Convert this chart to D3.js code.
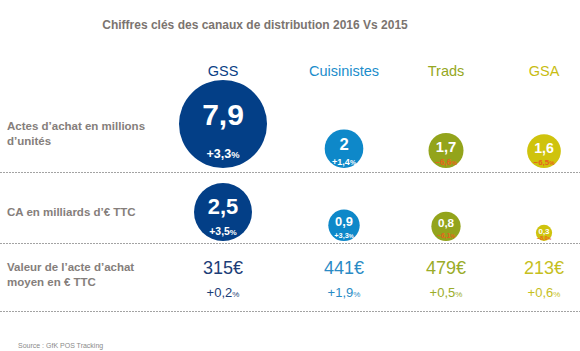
<!DOCTYPE html>
<html>
<head>
<meta charset="utf-8">
<script src="https://cdn.jsdelivr.net/npm/d3@7"></script>
<style>
  body { margin: 0; background: #fff; }
  text { font-family: "Liberation Sans", Arial, sans-serif; }
</style>
</head>
<body>
<div id="chart"></div>
<script>
var width = 580, height = 351;

// data
var channels = ["GSS", "Cuisinistes", "Trads", "GSA"];
var actes = [7.9, 2, 1.7, 1.6];            // millions d'unités
var actesEvol = [3.3, 1.4, -6.6, -6.5];     // %
var ca = [2.5, 0.9, 0.8, 0.3];              // milliards d'€ TTC
var caEvol = [3.5, 3.3, -6.1, -8.0];        // %
var valeur = [315, 441, 479, 213];          // € TTC
var valeurEvol = [0.2, 1.9, 0.5, 0.6];      // %
var rowLabels = [
  ["Actes d\u2019achat en millions", "d\u2019unit\u00e9s"],
  ["CA en milliards d\u2019\u20ac TTC"],
  ["Valeur de l\u2019acte d\u2019achat", "moyen en \u20ac TTC"]
];

var fills = ["#033f87", "#0e88c9", "#93a41b", "#cfc30d"];
var headColors = ["#0b3f86", "#1b8dcb", "#95a722", "#c8bc12"];
var valColors = ["#1c3d77", "#2a8bc5", "#9aac28", "#c6bf1e"];

var svg = d3.select("#chart")
  .append("svg")
    .attr("width", width)
    .attr("height", height);

var x = d3.scaleOrdinal()
    .domain(channels)
    .range([223, 344, 446, 544]);

// text size inside bubbles, by bubble radius
var valSize = d3.scaleLinear().domain([8, 14, 19, 44]).range([8, 11, 16.5, 30]);
var pctSize = d3.scaleLinear().domain([8, 14, 19, 44]).range([5.5, 6.5, 9, 12.5]);

var fmt = function(v, dec) {
  return d3.format("." + dec + "f")(v).replace(".", ",");
};
var fmtPct = function(v) {
  return (v >= 0 ? "+" : "") + fmt(v, 1);
};

// title
svg.append("text")
  .attr("x", 255)
  .attr("y", 29)
  .attr("text-anchor", "middle")
  .attr("font-size", 12)
  .attr("font-weight", "bold")
  .attr("fill", "#7b7470")
  .text("Chiffres cl\u00e9s des canaux de distribution 2016 Vs 2015");

// headers
svg.selectAll(".head")
  .data(channels)
  .enter().append("text")
    .attr("class", "head")
    .attr("x", function(d) { return x(d); })
    .attr("y", 76)
    .attr("text-anchor", "middle")
    .attr("font-size", 14.5)
    .attr("fill", function(d, i) { return headColors[i]; })
    .text(function(d) { return d; });

// row separators
svg.selectAll(".sep")
  .data([172, 243, 311])
  .enter().append("line")
    .attr("class", "sep")
    .attr("x1", 0)
    .attr("x2", width)
    .attr("y1", function(d) { return d + 0.5; })
    .attr("y2", function(d) { return d + 0.5; })
    .attr("stroke", "#a3a3a3")
    .attr("stroke-width", 1)
    .attr("stroke-dasharray", "2,1");

// row labels
var labelY = [130, 216, 271];
rowLabels.forEach(function(lines, r) {
  var t = svg.append("text")
    .attr("x", 7)
    .attr("y", labelY[r])
    .attr("font-size", 11.5)
    .attr("font-weight", "bold")
    .attr("fill", "#857e7b");
  lines.forEach(function(l, k) {
    t.append("tspan")
      .attr("x", 7)
      .attr("dy", k == 0 ? 0 : 15)
      .text(l);
  });
});

// bubbles
function bubbles(values, evol, bottom, rMax, cls) {
  var r = d3.scalePow().exponent(0.6)
      .domain([0, d3.max(values)])
      .range([0, rMax]);

  var data = values.map(function(v, i) {
    return {name: channels[i], v: v, e: evol[i], i: i};
  });

  var g = svg.selectAll("." + cls)
    .data(data)
    .enter().append("g")
      .attr("class", cls)
      .attr("transform", function(d) {
        return "translate(" + x(d.name) + "," + (bottom - r(d.v)) + ")";
      });

  g.append("circle")
    .attr("r", function(d) { return r(d.v); })
    .attr("fill", function(d) { return fills[d.i]; });

  g.append("text")
    .attr("text-anchor", "middle")
    .attr("y", function(d) { var rr = r(d.v); return -0.22 * rr + valSize(rr) * 0.36; })
    .attr("font-size", function(d) { return valSize(r(d.v)); })
    .attr("font-weight", "bold")
    .attr("fill", "#fff")
    .text(function(d) { return d.v % 1 == 0 ? d.v : fmt(d.v, 1); });

  var p = g.append("text")
    .attr("text-anchor", "middle")
    .attr("y", function(d) { var rr = r(d.v); return 0.66 * rr + pctSize(rr) * 0.36; })
    .attr("font-size", function(d) { return pctSize(r(d.v)); })
    .attr("font-weight", "bold")
    .attr("fill", function(d) { return d.e < 0 ? "#e8621e" : "#fff"; });
  p.append("tspan").text(function(d) { return fmtPct(d.e); });
  p.append("tspan").attr("font-size", "0.75em").text("%");
}

bubbles(actes, actesEvol, 168, 44, "b1");
bubbles(ca, caEvol, 241, 29, "b2");

// row 3: average purchase value
svg.selectAll(".val")
  .data(valeur)
  .enter().append("text")
    .attr("class", "val")
    .attr("x", function(d, i) { return x(channels[i]); })
    .attr("y", 274)
    .attr("text-anchor", "middle")
    .attr("font-size", 18)
    .attr("fill", function(d, i) { return valColors[i]; })
    .text(function(d) { return d + "\u20ac"; });

var ev = svg.selectAll(".vevol")
  .data(valeurEvol)
  .enter().append("text")
    .attr("class", "vevol")
    .attr("x", function(d, i) { return x(channels[i]); })
    .attr("y", 297)
    .attr("text-anchor", "middle")
    .attr("font-size", 13)
    .attr("fill", function(d, i) { return valColors[i]; });
ev.append("tspan").text(function(d) { return fmtPct(d); });
ev.append("tspan").attr("font-size", 8).text("%");

// source
svg.append("text")
  .attr("x", 18)
  .attr("y", 348)
  .attr("font-size", 7)
  .attr("fill", "#8a8a8a")
  .text("Source : GfK POS Tracking");
</script>
</body>
</html>
